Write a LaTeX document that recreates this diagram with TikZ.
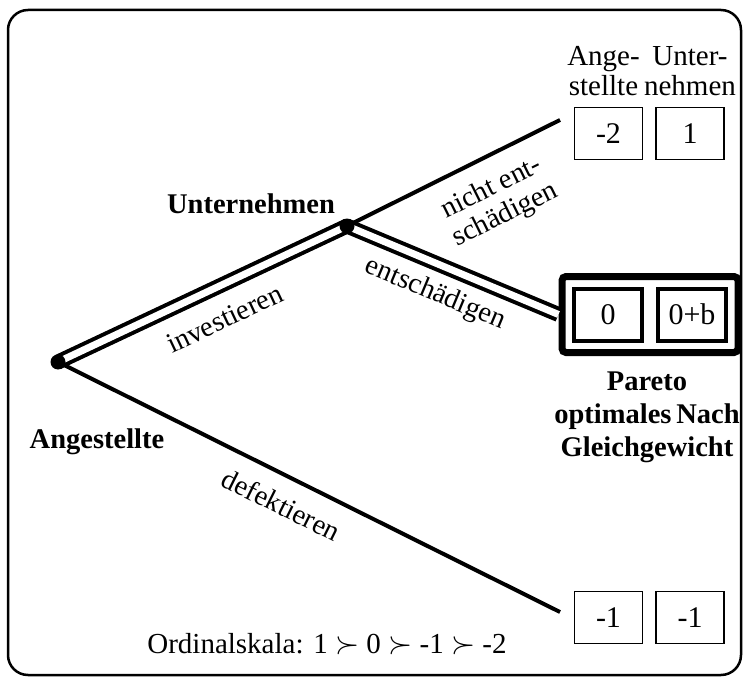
\documentclass[tikz,border=0pt]{standalone}
\usepackage{fontspec}
\setmainfont{Liberation Serif}
\usetikzlibrary{positioning}
\usetikzlibrary{fit}

\tikzset{
  dot/.style={circle, fill=black, inner sep=0pt, minimum size=15pt},
  payoff/.style={draw, line width=1.5pt, minimum width=68pt, minimum height=52pt,
                 inner sep=0pt, font=\fontsize{30}{30}\selectfont},
  player/.style={inner sep=0pt, align=center, font=\fontsize{28.5}{33}\selectfont\bfseries},
  move/.style={sloped, inner sep=0pt, align=center, font=\fontsize{28.5}{30}\selectfont},
  header/.style={inner sep=0pt, align=center, font=\fontsize{29}{30}\selectfont},
  branch/.style={line width=4pt},
  eqbranch/.style={line width=4pt, double, double distance=7pt}
}
\newcommand{\prefgt}{\scalebox{1.25}{$\succ$}}

\begin{document}
\begin{tikzpicture}[x=1pt, y=-1pt]
  \useasboundingbox (0,0) rectangle (745,677);
  \draw[line width=2.5pt, rounded corners=20pt] (8,10) rectangle (741,675);

  % decision points and branch ends
  \coordinate (ang) at (58,362);
  \coordinate (unt) at (347,226);
  \coordinate (ne)  at (560,120);
  \coordinate (de)  at (560,612);

  % payoffs
  \node[payoff] (a1) at (608.5,133.5) {-2};
  \node[payoff, right=12pt of a1] (u1) {1};
  \node[payoff, line width=4pt] (a2) at (608,314.5) {0};
  \node[payoff, line width=4pt, right=12pt of a2] (u2) {0+b};
  \node[payoff] (a3) at (608.5,617.5) {-1};
  \node[payoff, right=12pt of a3] (u3) {-1};
  \node[draw, line width=7pt, rounded corners=4pt, fit=(a2)(u2), inner sep=10pt] (pareto) {};

  \node[header, above=11pt of a1, xshift=-5pt] (ah) {Ange-\\stellte};
  \node[header, above=11pt of u1] (uh) {Unter-\\nehmen};

  % branches
  \draw[eqbranch] (ang) -- node[move, below=20pt, pos=0.53] {investieren} (unt);
  \draw[eqbranch] (unt) -- node[move, below=14pt, pos=0.47] {entschädigen} (pareto.west);
  \draw[branch] (unt) -- node[move, below=16pt, pos=0.615] {nicht ent-\\schädigen} (ne);
  \draw[branch] (ang) -- node[move, below=16pt, pos=0.47] {defektieren} (de);

  \node[dot] (angdot) at (ang) {};
  \node[dot] (untdot) at (unt) {};
  \node[player] (angl) at (97,442) {Angestellte};
  \node[player] (untl) at (251,204) {Unternehmen};
  \node[player, below=16pt of pareto, xshift=-3pt] (eq) {Pareto\\optimales\,Nach\\Gleichgewicht};

  \node[header] (scale) at (327,644) {Ordinalskala: 1 \prefgt{} 0 \prefgt{} -1 \prefgt{} -2};
\end{tikzpicture}
\end{document}
